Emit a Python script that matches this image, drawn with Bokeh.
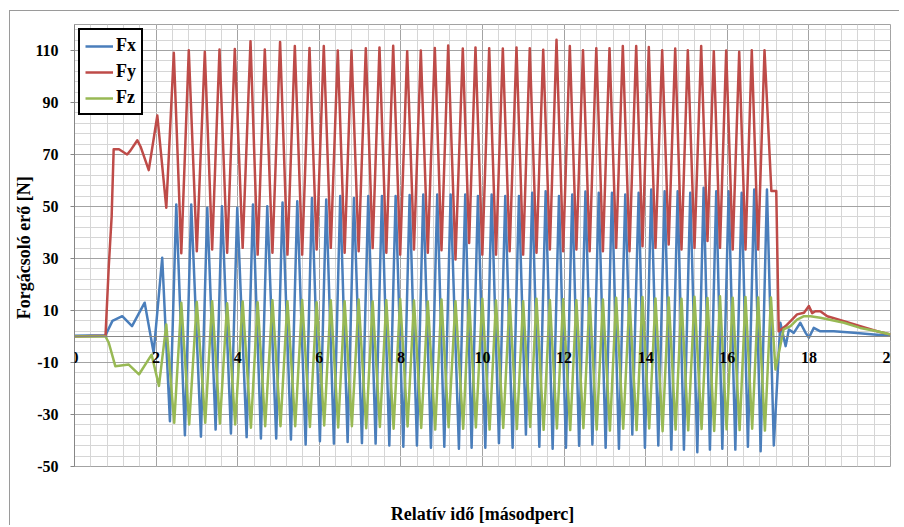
from bokeh.plotting import figure
from bokeh.models import FixedTicker, LinearAxis, Legend, LegendItem, Range1d, Label
from bokeh.embed import file_html
from bokeh.resources import INLINE

# ---------------- data ----------------
x_ticks = [0, 2, 4, 6, 8, 10, 12, 14, 16, 18, 20]
x_labels = ["0", "2", "4", "6", "8", "10", "12", "14", "16", "18", "20"]
y_ticks = [-50, -30, -10, 10, 30, 50, 70, 90, 110]
y_labels = ["-50", "-30", "-10", "10", "30", "50", "70", "90", "110"]

# times of the Fy maxima during steady cutting (s)
cycle_t = [2.434, 2.801, 3.194, 3.554, 3.929, 4.314, 4.664, 5.039, 5.400, 5.760,
           6.110, 6.453, 6.789, 7.140, 7.475, 7.811, 8.154, 8.488, 8.831, 9.159,
           9.517, 9.828, 10.164, 10.498, 10.833, 11.159, 11.488, 11.814, 12.140, 12.463,
           12.789, 13.113, 13.439, 13.767, 14.076, 14.404, 14.723, 15.032, 15.360, 15.669,
           15.973, 16.292, 16.600, 16.912]

fy_peak = [109.1, 110.1, 109.5, 110.4, 110.6, 113.6, 110.4, 113.3, 111.7, 111.0,
           111.7, 110.0, 110.0, 110.9, 111.2, 111.8, 109.7, 110.0, 111.0, 111.9,
           110.8, 111.2, 110.9, 110.8, 111.2, 110.9, 110.3, 114.1, 111.7, 110.1,
           110.9, 110.9, 111.7, 111.7, 111.3, 110.1, 110.8, 110.1, 111.7, 109.7,
           110.0, 109.5, 110.1, 110.1]
fy_trough = [32.0, 32.8, 33.5, 32.2, 34.1, 31.5, 32.2, 31.5, 31.5, 33.5,
             34.1, 32.2, 32.8, 34.0, 32.2, 31.5, 33.5, 32.2, 33.2, 29.6,
             36.0, 31.5, 31.5, 32.8, 31.5, 32.2, 33.5, 32.8, 33.5, 32.8,
             32.8, 34.1, 32.8, 34.7, 34.1, 35.4, 33.5, 34.1, 36.7, 34.1,
             33.5, 33.5, 33.5]
fx_peak = [50.8, 50.8, 49.5, 50.1, 49.5, 50.8, 50.1, 51.5, 52.0, 53.3,
           52.7, 54.0, 53.3, 54.0, 54.0, 54.0, 54.4, 54.6, 54.6, 54.6,
           54.6, 54.0, 54.6, 54.0, 54.0, 55.3, 55.9, 54.0, 54.6, 55.8,
           55.3, 55.3, 54.6, 55.3, 56.5, 55.9, 55.9, 55.3, 57.2, 55.9,
           55.9, 55.3, 56.5, 56.5]
fx_trough = [-32.6, -38.0, -38.5, -35.8, -37.3, -38.7, -39.2, -39.2, -39.6, -41.5,
             -40.3, -41.2, -40.6, -41.0, -41.2, -41.9, -42.4, -41.9, -42.8, -42.4,
             -43.2, -42.8, -42.8, -41.0, -42.8, -37.7, -42.4, -43.2, -42.8, -42.0,
             -41.5, -42.8, -43.2, -37.7, -42.8, -41.9, -43.5, -43.5, -44.5, -43.5,
             -43.2, -43.5, -42.4, -44.1]
fz_peak = [13.0, 13.3, 13.6, 12.8, 13.5, 13.2, 13.9, 13.6, 14.0, 13.2,
           13.9, 13.6, 14.2, 13.5, 13.9, 14.4, 13.8, 13.5, 14.2, 13.6,
           14.0, 14.5, 13.8, 14.2, 13.6, 14.5, 14.0, 14.3, 13.9, 14.6,
           14.2, 14.9, 14.4, 15.2, 14.6, 15.0, 14.5, 15.3, 14.8, 15.5,
           14.9, 15.2, 15.0]
fz_trough = [-33.2, -33.8, -33.2, -33.5, -33.8, -35.1, -34.5, -34.5, -34.5, -34.8,
             -34.2, -35.0, -34.5, -35.3, -34.8, -35.5, -34.6, -35.2, -35.8, -34.9,
             -35.5, -35.0, -35.8, -35.2, -35.6, -34.8, -35.9, -35.4, -36.0, -35.3,
             -35.8, -36.2, -35.5, -36.0, -35.4, -36.4, -35.8, -36.1, -35.6, -36.3,
             -35.7, -36.0, -35.5, -36.2]

# phase of the Fx / Fz extremes relative to the Fy maxima (s)
fx_trough_lag = -0.095
fx_peak_lag = 0.06
fz_trough_lag = 0.01

# run-in (before steady cutting) and run-out parts
fx_lead_t = [0.0, 0.76, 0.93, 1.17, 1.41, 1.72, 1.94, 2.15]
fx_lead_v = [0.3, 0.5, 6.0, 7.8, 4.0, 13.0, -6.3, 30.3]
fy_lead_t = [0.0, 0.76, 0.84, 0.91, 0.96, 1.09, 1.29, 1.37, 1.54, 1.62, 1.82, 2.03, 2.25]
fy_lead_v = [0.0, 0.3, 27.0, 46.0, 72.0, 72.0, 70.0, 71.5, 75.5, 73.0, 64.0, 85.0, 49.5]
fz_lead_t = [0.0, 0.76, 0.84, 1.00, 1.33, 1.58, 1.89, 2.07, 2.25]
fz_lead_v = [0.0, 0.0, -2.4, -11.4, -10.8, -14.6, -7.0, -19.0, 4.6]

fx_tail_t = [17.14, 17.30, 17.43, 17.51, 17.63, 17.79, 17.92, 18.00, 18.12, 18.28, 18.61, 19.10, 19.59, 20.0]
fx_tail_v = [-41.9, 5.3, -3.7, 2.7, 1.4, 5.3, 1.4, -0.5, 3.3, 2.0, 2.0, 1.4, 0.8, 0.3]
fy_tail_t = [17.08, 17.20, 17.26, 17.43, 17.55, 17.71, 17.88, 18.00, 18.08, 18.16, 18.28, 18.45, 18.86, 19.26, 19.67, 20.0]
fy_tail_v = [56.0, 56.0, 2.0, 4.0, 5.9, 8.5, 9.1, 11.7, 9.0, 9.7, 9.7, 7.8, 5.9, 4.0, 2.0, 0.8]
fz_tail_t = [17.07, 17.18, 17.38, 17.55, 17.71, 17.88, 18.04, 18.28, 18.86, 19.26, 19.67, 20.0]
fz_tail_v = [15.0, -12.7, 2.7, 4.0, 6.5, 7.8, 7.8, 7.2, 5.3, 3.3, 2.0, 0.8]

# ---------------- assemble the traces ----------------
n = len(cycle_t)
mids = [(cycle_t[i] + cycle_t[i + 1]) / 2 for i in range(n - 1)]

fx_t, fx_v = list(fx_lead_t), list(fx_lead_v)
for i in range(n):
    fx_t += [cycle_t[i] + fx_trough_lag, cycle_t[i] + fx_peak_lag]
    fx_v += [fx_trough[i], fx_peak[i]]
fx_t += fx_tail_t
fx_v += fx_tail_v

fy_t, fy_v = list(fy_lead_t), list(fy_lead_v)
for i in range(n):
    fy_t.append(cycle_t[i]); fy_v.append(fy_peak[i])
    if i < n - 1:
        fy_t.append(mids[i]); fy_v.append(fy_trough[i])
fy_t += fy_tail_t
fy_v += fy_tail_v

fz_t, fz_v = list(fz_lead_t), list(fz_lead_v)
for i in range(n):
    fz_t.append(cycle_t[i] + fz_trough_lag); fz_v.append(fz_trough[i])
    if i < n - 1:
        fz_t.append(mids[i]); fz_v.append(fz_peak[i])
fz_t += fz_tail_t
fz_v += fz_tail_v

# ---------------- figure ----------------
FONT = "Liberation Serif"
GRID_MAJOR = "#a3a3a3"
GRID_MINOR = "#d6d6d6"
AXIS = "#868686"

p = figure(width=890, height=515, output_backend="svg", toolbar_location=None,
           x_range=Range1d(0, 20), y_range=Range1d(-50, 120),
           min_border_left=64, min_border_right=10, min_border_top=13, min_border_bottom=59,
           background_fill_color="white", border_fill_color="white")
p.styles = {"margin-left": "9px", "margin-top": "10px",
            "border-left": "1px solid #9a9a9a", "border-top": "1px solid #9a9a9a"}
p.outline_line_color = GRID_MAJOR

x_minor = [i * 0.4 for i in range(51)]
y_minor = [-50 + 4 * i for i in range(43)]

p.xgrid.ticker = FixedTicker(ticks=x_ticks, minor_ticks=x_minor)
p.ygrid.ticker = FixedTicker(ticks=y_ticks, minor_ticks=y_minor)
p.xgrid.grid_line_color = GRID_MAJOR
p.ygrid.grid_line_color = GRID_MAJOR
p.xgrid.minor_grid_line_color = GRID_MINOR
p.ygrid.minor_grid_line_color = GRID_MINOR

# x axis crossing at y = 0 (line and ticks; its labels are drawn as unclipped
# text annotations so that the end labels may extend past the plot edge)
xa = p.xaxis[0]
xa.ticker = FixedTicker(ticks=x_ticks)
xa.fixed_location = 0
xa.axis_line_color = AXIS
xa.major_tick_line_color = AXIS
xa.major_tick_out = 4
xa.major_tick_in = 0
xa.minor_tick_line_color = None
xa.major_label_text_color = None
xa.major_label_text_alpha = 0

for tx, tl in zip(x_ticks, x_labels):
    p.add_layout(Label(x=tx, y=0, text=tl, x_offset=0, y_offset=-15,
                       text_align="center", text_baseline="top",
                       text_font=FONT, text_font_style="bold",
                       text_font_size="16px", text_color="black"))

# separate bottom axis only for the title
xt = LinearAxis(ticker=FixedTicker(ticks=[]), axis_label="Relatív idő [másodperc]")
xt.axis_line_color = None
xt.major_tick_line_color = None
xt.minor_tick_line_color = None
xt.major_tick_out = 0
xt.minor_tick_out = 0
xt.major_label_standoff = 0
xt.axis_label_standoff = 37
xt.axis_label_text_font = FONT
xt.axis_label_text_font_style = "bold"
xt.axis_label_text_font_size = "18px"
xt.axis_label_text_color = "black"
p.add_layout(xt, "below")

ya = p.yaxis[0]
ya.ticker = FixedTicker(ticks=y_ticks)
ya.major_label_overrides = {t: l for t, l in zip(y_ticks, y_labels)}
ya.axis_line_color = AXIS
ya.major_tick_line_color = AXIS
ya.major_tick_out = 4
ya.major_tick_in = 0
ya.minor_tick_line_color = None
ya.major_label_standoff = 12
ya.major_label_text_font = FONT
ya.major_label_text_font_style = "bold"
ya.major_label_text_font_size = "16px"
ya.major_label_text_color = "black"
ya.axis_label = "Forgácsoló erő  [N]"
ya.axis_label_standoff = -2
ya.axis_label_text_font = FONT
ya.axis_label_text_font_style = "bold"
ya.axis_label_text_font_size = "18px"
ya.axis_label_text_color = "black"

r_fx = p.line(fx_t, fx_v, line_color="#4A7EBB", line_width=2.5, line_join="round")
r_fy = p.line(fy_t, fy_v, line_color="#BE4B48", line_width=2.5, line_join="round")
r_fz = p.line(fz_t, fz_v, line_color="#98B954", line_width=2.5, line_join="round")

legend = Legend(items=[LegendItem(label="Fx", renderers=[r_fx]),
                       LegendItem(label="Fy", renderers=[r_fy]),
                       LegendItem(label="Fz", renderers=[r_fz])],
                location="top_left", orientation="vertical",
                border_line_color="black", border_line_width=2, border_line_alpha=1.0,
                background_fill_color="white", background_fill_alpha=1.0,
                label_text_font=FONT, label_text_font_style="bold",
                label_text_font_size="18px", label_text_color="black",
                glyph_width=28, glyph_height=20, spacing=5, padding=5,
                label_standoff=3, margin=4)
p.add_layout(legend)

with open("out.html", "w") as f:
    f.write(file_html(p, INLINE))
